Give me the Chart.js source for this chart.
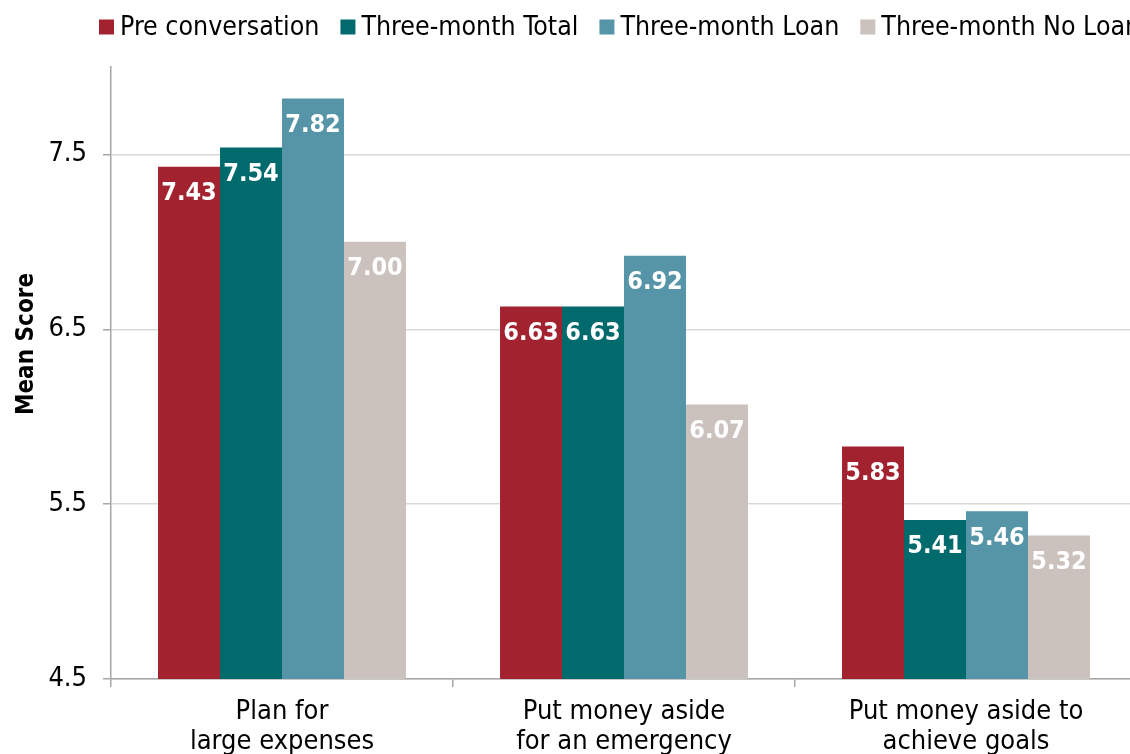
<!DOCTYPE html>
<html>
<head>
<meta charset="utf-8">
<script src="https://cdn.jsdelivr.net/npm/chart.js@4.4.0/dist/chart.umd.min.js"></script>
<style>
  html, body { margin: 0; padding: 0; background: #fff; overflow: hidden; }
  #wrap { position: relative; width: 1130px; height: 754px; overflow: hidden; }
  #scoreChart { position: absolute; left: 0; top: 0; }
</style>
</head>
<body>
<div id="wrap">
  <canvas id="scoreChart" width="1137" height="767"></canvas>
</div>
<script>
const categories = [
    ['Plan for', 'large expenses'],
    ['Put money aside', 'for an emergency'],
    ['Put money aside to', 'achieve goals']
];
const preConversation = [7.43, 6.63, 5.83];
const threeMonthTotal = [7.54, 6.63, 5.41];
const threeMonthLoan = [7.82, 6.92, 5.46];
const threeMonthNoLoan = [7.00, 6.07, 5.32];
const yTicks = [4.5, 5.5, 6.5, 7.5];
const yTitle = 'Mean Score';

const FONT = '"DejaVu Sans Condensed", "DejaVu Sans", sans-serif';

// white value printed just under the top of each bar
const barValueLabels = {
    id: 'barValueLabels',
    afterDatasetsDraw(chart) {
        const ctx = chart.ctx;
        ctx.save();
        ctx.font = 'bold 25px ' + FONT;
        ctx.fillStyle = '#ffffff';
        ctx.textAlign = 'center';
        ctx.textBaseline = 'middle';
        chart.data.datasets.forEach((ds, i) => {
            chart.getDatasetMeta(i).data.forEach((bar, j) => {
                ctx.fillText(ds.data[j].toFixed(2), bar.x, bar.y + 27);
            });
        });
        ctx.restore();
    }
};

// one-row legend with tight swatch/text spacing
const topLegend = {
    id: 'topLegend',
    afterDraw(chart, args, opts) {
        const ctx = chart.ctx;
        ctx.save();
        ctx.font = opts.font;
        ctx.textBaseline = 'middle';
        let x = opts.x;
        chart.data.datasets.forEach(ds => {
            ctx.fillStyle = ds.backgroundColor;
            ctx.fillRect(x, opts.y - opts.box / 2, opts.box, opts.box);
            x += opts.box + opts.gap;
            ctx.fillStyle = opts.color;
            ctx.fillText(ds.label, x, opts.y + 1);
            x += ctx.measureText(ds.label).width + opts.spacing;
        });
        ctx.restore();
    }
};

// rotated y-axis title
const sideTitle = {
    id: 'sideTitle',
    afterDraw(chart, args, opts) {
        const ctx = chart.ctx;
        ctx.save();
        ctx.translate(opts.x, opts.y);
        ctx.rotate(-Math.PI / 2);
        ctx.font = opts.font;
        ctx.fillStyle = opts.color;
        ctx.textAlign = 'center';
        ctx.textBaseline = 'middle';
        ctx.fillText(opts.text, 0, 0);
        ctx.restore();
    }
};

new Chart(document.getElementById('scoreChart'), {
    type: 'bar',
    data: {
        labels: categories,
        datasets: [
            { label: 'Pre conversation', data: preConversation, backgroundColor: '#A2222F' },
            { label: 'Three-month Total', data: threeMonthTotal, backgroundColor: '#006A6D' },
            { label: 'Three-month Loan', data: threeMonthLoan, backgroundColor: '#5595A7' },
            { label: 'Three-month No Loan', data: threeMonthNoLoan, backgroundColor: '#CBC2BD' }
        ]
    },
    options: {
        responsive: false,
        animation: false,
        layout: { padding: { top: 67, left: 0, right: 0, bottom: 0 } },
        datasets: {
            bar: { categoryPercentage: 0.725, barPercentage: 1.0, borderWidth: 0 }
        },
        plugins: {
            legend: { display: false },
            tooltip: { enabled: false },
            topLegend: {
                x: 99, y: 27, box: 15, gap: 6, spacing: 21,
                color: '#000',
                font: '26.5px ' + FONT
            },
            sideTitle: {
                x: 27, y: 344,
                text: yTitle,
                color: '#000',
                font: 'bold 24px ' + FONT
            }
        },
        scales: {
            x: {
                grid: {
                    display: true,
                    offset: true,
                    drawOnChartArea: false,
                    drawTicks: true,
                    tickLength: 8,
                    tickColor: '#a6a6a6',
                    lineWidth: 1.5
                },
                border: { color: '#a6a6a6', width: 1.5 },
                ticks: {
                    color: '#000',
                    padding: 10,
                    font: { family: FONT, size: 27, lineHeight: 1.111 }
                }
            },
            y: {
                min: 4.5,
                max: 8.0,
                afterBuildTicks: (scale) => { scale.ticks = yTicks.map(v => ({ value: v })); },
                afterFit: (scale) => { scale.width = 111; },
                grid: {
                    color: '#d9d9d9',
                    lineWidth: 1.5,
                    tickLength: 8,
                    tickColor: '#a6a6a6'
                },
                border: { color: '#a6a6a6', width: 1.5 },
                ticks: {
                    color: '#000',
                    padding: 16,
                    font: { family: FONT, size: 27 },
                    callback: (v) => v.toFixed(1)
                }
            }
        }
    },
    plugins: [barValueLabels, topLegend, sideTitle]
});
</script>
</body>
</html>
